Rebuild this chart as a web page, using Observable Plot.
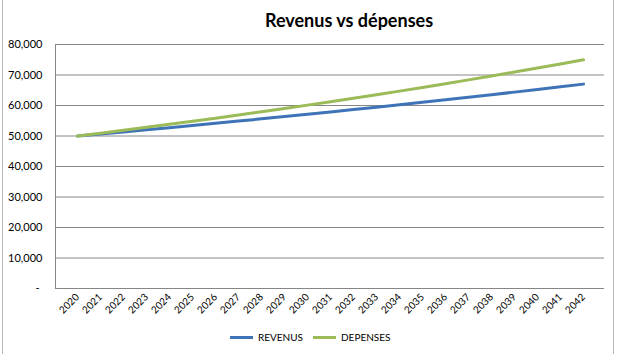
<!DOCTYPE html>
<html>
<head>
<meta charset="utf-8">
<script src="https://cdn.jsdelivr.net/npm/d3@7"></script>
<script src="https://cdn.jsdelivr.net/npm/@observablehq/plot@0.6"></script>
<style>
  html, body { margin: 0; padding: 0; background: #fff; }
  #wrap { position: relative; width: 618px; height: 354px; overflow: hidden; font-family: Lato, "Open Sans", sans-serif; }
  #frameL { position: absolute; left: 2px; top: 0; width: 1px; height: 354px; background: #b8b8b8; }
  #frameR { position: absolute; left: 613px; top: 0; width: 1px; height: 354px; background: #b8b8b8; }
  #title { height: 36px; line-height: 40px; font-weight: bold; font-size: 18px; color: #000; text-align: center; padding-left: 80px; box-sizing: border-box; }
  #chart svg { display: block; }
  #legend { position: relative; height: 32px; font-size: 10px; color: #000; }
  .item { position: absolute; top: 9px; display: flex; align-items: center; }
  .sw { width: 23px; height: 3px; margin-right: 5px; }
</style>
</head>
<body>
<div id="wrap">
  <div id="frameL"></div><div id="frameR"></div>
  <div id="title">Revenus vs dépenses</div>
  <div id="chart"></div>
  <div id="legend"></div>
</div>
<script>
const years = [2020,2021,2022,2023,2024,2025,2026,2027,2028,2029,2030,2031,2032,2033,2034,2035,2036,2037,2038,2039,2040,2041,2042];
const revenus = [50000,50670,51349,52037,52734,53441,54157,54883,55618,56364,57119,57884,58660,59446,60242,61050,61868,62697,63537,64388,65251,66125,67011];
const depenses = [50000,50930,51877,52842,53825,54826,55846,56885,57943,59021,60118,61236,62375,63536,64717,65921,67147,68396,69668,70964,72284,73629,74998];
const seriesNames = ["REVENUS", "DEPENSES"];
const seriesColors = ["#3F73B8", "#9BBB59"];
const yTicks = [0,10000,20000,30000,40000,50000,60000,70000,80000];

const data = [];
years.forEach((y, i) => {
  data.push({year: String(y), value: revenus[i], serie: seriesNames[0]});
  data.push({year: String(y), value: depenses[i], serie: seriesNames[1]});
});

const fmt = d3.format(",");
const plot = Plot.plot({
  width: 618,
  height: 286,
  marginLeft: 55,
  marginRight: 14,
  marginTop: 8,
  marginBottom: 34,
  style: {fontFamily: "Lato, 'Open Sans', sans-serif", fontSize: "11px", color: "#000", background: "#fff"},
  x: {type: "point", domain: years.map(String), padding: 0.5, label: null},
  y: {domain: [0, 80000], label: null},
  color: {domain: seriesNames, range: seriesColors},
  marks: [
    Plot.gridY(yTicks, {stroke: "#868686", strokeOpacity: 1, strokeWidth: 1}),
    Plot.frame({anchor: "left", stroke: "#868686"}),
    Plot.axisY(yTicks, {tickSize: 0, tickPadding: 13, tickFormat: d => d === 0 ? "-\u00a0" : fmt(d), fontSize: 11}),
    Plot.axisX({tickSize: 0, tickPadding: 7, tickRotate: -45, textAnchor: "end", fontSize: 10}),
    Plot.line(data, {x: "year", y: "value", z: "serie", stroke: "serie", strokeWidth: 3, curve: "linear"})
  ]
});
document.getElementById("chart").appendChild(plot);

const legend = document.getElementById("legend");
const lefts = [230, 313];
seriesNames.forEach((n, i) => {
  const it = document.createElement("div");
  it.className = "item";
  it.style.left = lefts[i] + "px";
  it.innerHTML = `<div class="sw" style="background:${seriesColors[i]}"></div><span>${n}</span>`;
  legend.appendChild(it);
});
</script>
</body>
</html>
